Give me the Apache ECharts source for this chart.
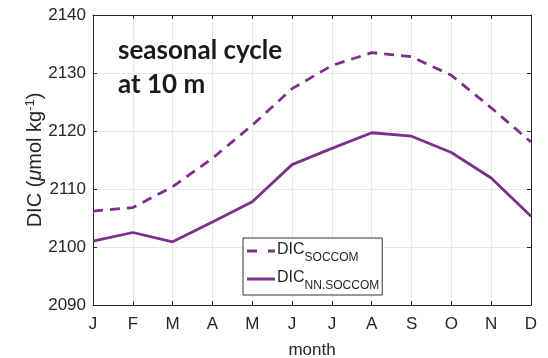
<!DOCTYPE html>
<html>
<head>
<meta charset="utf-8">
<script src="https://cdn.jsdelivr.net/npm/echarts@6/dist/echarts.min.js"></script>
<style>
  html, body { margin: 0; padding: 0; background: #fff; }
  #chart { width: 548px; height: 358px; }
</style>
</head>
<body>
<div id="chart"></div>
<script>
// Monthly climatology of surface DIC (10 m)
const months = ['J', 'F', 'M', 'A', 'M', 'J', 'J', 'A', 'S', 'O', 'N', 'D'];
const dicSoccom = [2106.2, 2106.8, 2110.4, 2115.3, 2121.0, 2127.3, 2131.3, 2133.5, 2132.8, 2129.6, 2124.0, 2118.1];
const dicNnSoccom = [2101.0, 2102.5, 2100.9, 2104.3, 2107.8, 2114.2, 2117.0, 2119.7, 2119.1, 2116.3, 2111.9, 2105.3];
const yTicks = { min: 2090, max: 2140, step: 10 };

const purple = '#7E2F8E';
const axisColor = '#262626';
const gridColor = '#e8e8e8';
const tickFont = 'Liberation Sans, Arial, sans-serif';

// legend glyphs: a two-dash stroke and a solid stroke
const dashIcon = 'path://M0,0h10v3h-10zM21,0h7v3h-7z';
const solidIcon = 'path://M0,0h28v3h-28z';

const chart = echarts.init(document.getElementById('chart'), null, { renderer: 'canvas' });

const subRich = {
  base: { fontSize: 16, fontFamily: tickFont, color: axisColor, verticalAlign: 'top', lineHeight: 18 },
  sub: { fontSize: 12, fontFamily: tickFont, color: axisColor, padding: [10, 0, 0, 0], lineHeight: 18, verticalAlign: 'top' }
};

chart.setOption({
  animation: false,
  backgroundColor: '#fff',
  title: {
    text: 'seasonal cycle\nat 10 m',
    left: 113,
    top: 29,
    textStyle: {
      fontFamily: 'Lato, "Open Sans", sans-serif',
      fontWeight: 'bold',
      fontSize: 26,
      lineHeight: 34,
      color: '#1a1a1a'
    }
  },
  grid: { left: 93, right: 17, top: 15, bottom: 53, outerBoundsMode: 'none', containLabel: false },
  legend: {
    left: 243,
    top: 238,
    orient: 'vertical',
    backgroundColor: '#fff',
    borderColor: '#333',
    borderWidth: 1,
    borderRadius: 0,
    padding: [4, 3, 3, 4],
    itemGap: 6,
    itemWidth: 28,
    itemHeight: 3,
    data: [
      { name: 'soccom', icon: dashIcon },
      { name: 'nn', icon: solidIcon }
    ],
    itemStyle: { color: purple },
    formatter: function (name) {
      return name === 'soccom' ? '{base|DIC}{sub|SOCCOM}' : '{base|DIC}{sub|NN.SOCCOM}';
    },
    textStyle: { rich: subRich, padding: [0, 0, 0, -3] }
  },
  xAxis: [
    {
      type: 'category',
      data: months,
      boundaryGap: false,
      name: 'month',
      nameLocation: 'middle',
      nameGap: 37,
      nameMoveOverlap: false,
      nameTextStyle: { fontSize: 17, fontFamily: tickFont, color: axisColor },
      axisLine: { lineStyle: { color: axisColor, width: 1 } },
      axisTick: { inside: true, length: 4, lineStyle: { color: axisColor } },
      axisLabel: { fontSize: 17, fontFamily: tickFont, color: axisColor, margin: 11 },
      splitLine: { show: true, lineStyle: { color: gridColor, width: 1 } }
    },
    {
      type: 'category',
      data: months,
      boundaryGap: false,
      position: 'top',
      axisLine: { show: true, lineStyle: { color: axisColor, width: 1 } },
      axisTick: { show: true, inside: true, length: 4, lineStyle: { color: axisColor } },
      axisLabel: { show: false },
      splitLine: { show: false }
    }
  ],
  yAxis: [
    {
      type: 'value',
      min: yTicks.min,
      max: yTicks.max,
      interval: yTicks.step,
      name: 'DIC ({mu|μ}mol kg{sup|-1})',
      nameLocation: 'middle',
      nameGap: 46,
      nameMoveOverlap: false,
      nameTextStyle: {
        fontSize: 20,
        fontFamily: tickFont,
        color: axisColor,
        rich: {
          mu: { fontSize: 20, fontFamily: tickFont, fontStyle: 'italic', color: axisColor },
          sup: { fontSize: 13, fontFamily: tickFont, color: axisColor, padding: [0, 0, 10, 0] }
        }
      },
      axisLine: { show: true, lineStyle: { color: axisColor, width: 1 } },
      axisTick: { show: true, inside: true, length: 4, lineStyle: { color: axisColor } },
      axisLabel: {
        fontSize: 17,
        fontFamily: tickFont,
        color: axisColor,
        margin: 7,
        formatter: function (v) { return String(v); }
      },
      splitLine: { show: true, lineStyle: { color: gridColor, width: 1 } }
    },
    {
      type: 'value',
      min: yTicks.min,
      max: yTicks.max,
      interval: yTicks.step,
      position: 'right',
      axisLine: { show: true, lineStyle: { color: axisColor, width: 1 } },
      axisTick: { show: true, inside: true, length: 4, lineStyle: { color: axisColor } },
      axisLabel: { show: false },
      splitLine: { show: false }
    }
  ],
  series: [
    {
      name: 'soccom',
      type: 'line',
      data: dicSoccom,
      symbol: 'none',
      lineStyle: { color: purple, width: 2.8, type: [10, 7] },
      itemStyle: { color: purple },
      z: 3
    },
    {
      name: 'nn',
      type: 'line',
      data: dicNnSoccom,
      symbol: 'none',
      lineStyle: { color: purple, width: 2.8 },
      itemStyle: { color: purple },
      z: 3
    }
  ]
});
</script>
</body>
</html>
